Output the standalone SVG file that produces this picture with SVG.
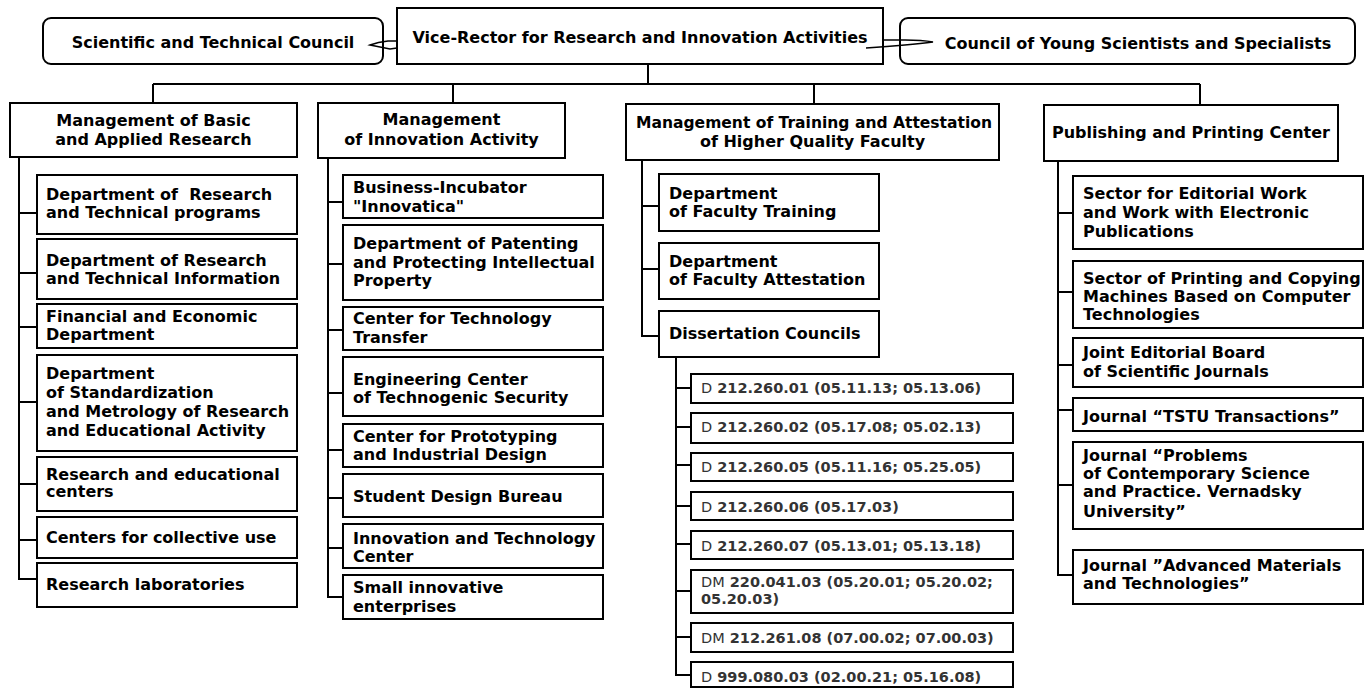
<svg xmlns="http://www.w3.org/2000/svg" width="1369" height="688" viewBox="0 0 1369 688">
<style>
.box{fill:#fff;stroke:#000;stroke-width:2}
.t{font-family:"DejaVu Sans","Liberation Sans",sans-serif;font-weight:bold;font-size:16px;fill:#000}
.c{text-anchor:middle}
.s{font-family:"DejaVu Sans","Liberation Sans",sans-serif;font-weight:bold;font-size:14.5px;fill:#333}
.r{font-weight:normal}
.ln{fill:none;stroke:#000;stroke-width:2}
.thin{fill:none;stroke:#000;stroke-width:1.5}
</style>
<rect width="1369" height="688" fill="#fff"/>
<g id="stc"><rect class="box" x="43" y="18" width="340" height="46" rx="8"/><text class="t c" x="213" y="48">Scientific and Technical Council</text></g>
<g id="vr"><rect class="box" x="397" y="8" width="486" height="56"/><text class="t c" x="640" y="43">Vice-Rector for Research and Innovation Activities</text></g>
<g id="cys"><rect class="box" x="900" y="18" width="455" height="46" rx="8"/><text class="t c" x="1138" y="49">Council of Young Scientists and Specialists</text></g>

<g id="h1"><rect class="box" x="10" y="103" width="287" height="54"/><text class="t c" x="153.5" y="126">Management of Basic</text><text class="t c" x="153.5" y="145">and Applied Research</text></g>
<g id="h2"><rect class="box" x="318" y="103" width="247" height="55"/><text class="t c" x="441.5" y="125">Management</text><text class="t c" x="441.5" y="145">of Innovation Activity</text></g>
<g id="h3"><rect class="box" x="626" y="104" width="373" height="56"/><text class="t c" x="814" y="128" textLength="356" lengthAdjust="spacingAndGlyphs">Management of Training and Attestation</text><text class="t c" x="812.5" y="147">of Higher Quality Faculty</text></g>
<g id="h4"><rect class="box" x="1044" y="105" width="294" height="56"/><text class="t c" x="1191" y="138">Publishing and Printing Center</text></g>

<g id="a1"><rect class="box" x="37" y="175" width="260" height="59"/><text class="t" x="46" y="200">Department of&#160; Research</text><text class="t" x="46" y="218">and Technical programs</text></g>
<g id="a2"><rect class="box" x="37" y="239" width="260" height="60"/><text class="t" x="46" y="266">Department of Research</text><text class="t" x="46" y="284">and Technical Information</text></g>
<g id="a3"><rect class="box" x="37" y="304" width="260" height="44"/><text class="t" x="46" y="322">Financial and Economic</text><text class="t" x="46" y="340">Department</text></g>
<g id="a4"><rect class="box" x="37" y="355" width="260" height="96"/><text class="t" x="46" y="379">Department</text><text class="t" x="46" y="398">of Standardization</text><text class="t" x="46" y="417">and Metrology of Research</text><text class="t" x="46" y="436">and Educational Activity</text></g>
<g id="a5"><rect class="box" x="37" y="457" width="260" height="54"/><text class="t" x="46" y="480">Research and educational</text><text class="t" x="46" y="497">centers</text></g>
<g id="a6"><rect class="box" x="37" y="517" width="260" height="41"/><text class="t" x="46" y="543">Centers for collective use</text></g>
<g id="a7"><rect class="box" x="37" y="563" width="260" height="44"/><text class="t" x="46" y="590">Research laboratories</text></g>

<g id="b1"><rect class="box" x="343" y="175" width="260" height="43"/><text class="t" x="353" y="193">Business-Incubator</text><text class="t" x="353" y="212">"Innovatica"</text></g>
<g id="b2"><rect class="box" x="343" y="225" width="260" height="75"/><text class="t" x="353" y="249">Department of Patenting</text><text class="t" x="353" y="268">and Protecting Intellectual</text><text class="t" x="353" y="286">Property</text></g>
<g id="b3"><rect class="box" x="343" y="307" width="260" height="43"/><text class="t" x="353" y="324">Center for Technology</text><text class="t" x="353" y="343">Transfer</text></g>
<g id="b4"><rect class="box" x="343" y="357" width="260" height="59"/><text class="t" x="353" y="385">Engineering Center</text><text class="t" x="353" y="403">of Technogenic Security</text></g>
<g id="b5"><rect class="box" x="343" y="424" width="260" height="43"/><text class="t" x="353" y="442">Center for Prototyping</text><text class="t" x="353" y="460">and Industrial Design</text></g>
<g id="b6"><rect class="box" x="343" y="474" width="260" height="43"/><text class="t" x="353" y="502">Student Design Bureau</text></g>
<g id="b7"><rect class="box" x="343" y="524" width="260" height="44"/><text class="t" x="353" y="544">Innovation and Technology</text><text class="t" x="353" y="562">Center</text></g>
<g id="b8"><rect class="box" x="343" y="575" width="260" height="44"/><text class="t" x="353" y="593">Small innovative</text><text class="t" x="353" y="612">enterprises</text></g>

<g id="c1"><rect class="box" x="659" y="174" width="220" height="57"/><text class="t" x="669" y="199">Department</text><text class="t" x="669" y="217">of Faculty Training</text></g>
<g id="c2"><rect class="box" x="659" y="243" width="220" height="56"/><text class="t" x="669" y="267">Department</text><text class="t" x="669" y="285">of Faculty Attestation</text></g>
<g id="c3"><rect class="box" x="659" y="311" width="220" height="46"/><text class="t" x="669" y="339">Dissertation Councils</text></g>

<g id="d1"><rect class="box" x="691" y="374" width="322" height="29"/><text class="s" x="701" y="393"><tspan class="r">D</tspan> 212.260.01 (05.11.13; 05.13.06)</text></g>
<g id="d2"><rect class="box" x="691" y="413" width="322" height="30"/><text class="s" x="701" y="432"><tspan class="r">D</tspan> 212.260.02 (05.17.08; 05.02.13)</text></g>
<g id="d3"><rect class="box" x="691" y="453" width="322" height="28"/><text class="s" x="701" y="472"><tspan class="r">D</tspan> 212.260.05 (05.11.16; 05.25.05)</text></g>
<g id="d4"><rect class="box" x="691" y="492" width="322" height="28"/><text class="s" x="701" y="512"><tspan class="r">D</tspan> 212.260.06 (05.17.03)</text></g>
<g id="d5"><rect class="box" x="691" y="531" width="322" height="28"/><text class="s" x="701" y="551"><tspan class="r">D</tspan> 212.260.07 (05.13.01; 05.13.18)</text></g>
<g id="d6"><rect class="box" x="691" y="570" width="322" height="43"/><text class="s" x="701" y="587"><tspan class="r">DM</tspan> 220.041.03 (05.20.01; 05.20.02;</text><text class="s" x="701" y="604">05.20.03)</text></g>
<g id="d7"><rect class="box" x="691" y="623" width="322" height="29"/><text class="s" x="701" y="643"><tspan class="r">DM</tspan> 212.261.08 (07.00.02; 07.00.03)</text></g>
<g id="d8"><rect class="box" x="691" y="662" width="322" height="25"/><text class="s" x="701" y="682"><tspan class="r">D</tspan> 999.080.03 (02.00.21; 05.16.08)</text></g>

<g id="e1"><rect class="box" x="1073" y="176" width="290" height="73"/><text class="t" x="1083" y="199">Sector for Editorial Work</text><text class="t" x="1083" y="218">and Work with Electronic</text><text class="t" x="1083" y="237">Publications</text></g>
<g id="e2"><rect class="box" x="1073" y="261" width="290" height="67"/><text class="t" x="1083" y="284">Sector of Printing and Copying</text><text class="t" x="1083" y="302">Machines Based on Computer</text><text class="t" x="1083" y="320">Technologies</text></g>
<g id="e3"><rect class="box" x="1073" y="338" width="290" height="49"/><text class="t" x="1083" y="358">Joint Editorial Board</text><text class="t" x="1083" y="377">of Scientific Journals</text></g>
<g id="e4"><rect class="box" x="1073" y="398" width="290" height="33"/><text class="t" x="1083" y="422">Journal “TSTU Transactions”</text></g>
<g id="e5"><rect class="box" x="1073" y="442" width="290" height="87"/><text class="t" x="1083" y="461">Journal “Problems</text><text class="t" x="1083" y="479">of Contemporary Science</text><text class="t" x="1083" y="497">and Practice. Vernadsky</text><text class="t" x="1083" y="517">University”</text></g>
<g id="e6"><rect class="box" x="1073" y="550" width="290" height="54"/><text class="t" x="1083" y="571">Journal ”Advanced Materials</text><text class="t" x="1083" y="589">and Technologies”</text></g>

<g id="connectors">
<path class="thin" d="M397,41 L388,41 Q378,42 370,45 Q380,47 390,49 L397,48"/>
<path class="thin" d="M883,40 L905,40 Q922,40 933,42 Q910,45 866,48"/>
<path class="ln" d="M648,64 V84 M153,84 H1200 M153,84 V103 M453,84 V103 M814,84 V104 M1200,84 V105"/>
<path class="ln" d="M19,157 V579 H37 M19,213 H37 M19,273 H37 M19,327 H37 M19,402 H37 M19,484 H37 M19,540 H37"/>
<path class="ln" d="M328,158 V597 H343 M328,202 H343 M328,264 H343 M328,330 H343 M328,393 H343 M328,450 H343 M328,498 H343 M328,548 H343"/>
<path class="ln" d="M642,160 V336 H659 M642,206 H659 M642,269 H659"/>
<path class="ln" d="M676,357 V675 H691 M676,388 H691 M676,427 H691 M676,465 H691 M676,506 H691 M676,544 H691 M676,591 H691 M676,637 H691"/>
<path class="ln" d="M1058,161 V575 H1073 M1058,213 H1073 M1058,292 H1073 M1058,365 H1073 M1058,410 H1073 M1058,485 H1073"/>
</g>
</svg>
